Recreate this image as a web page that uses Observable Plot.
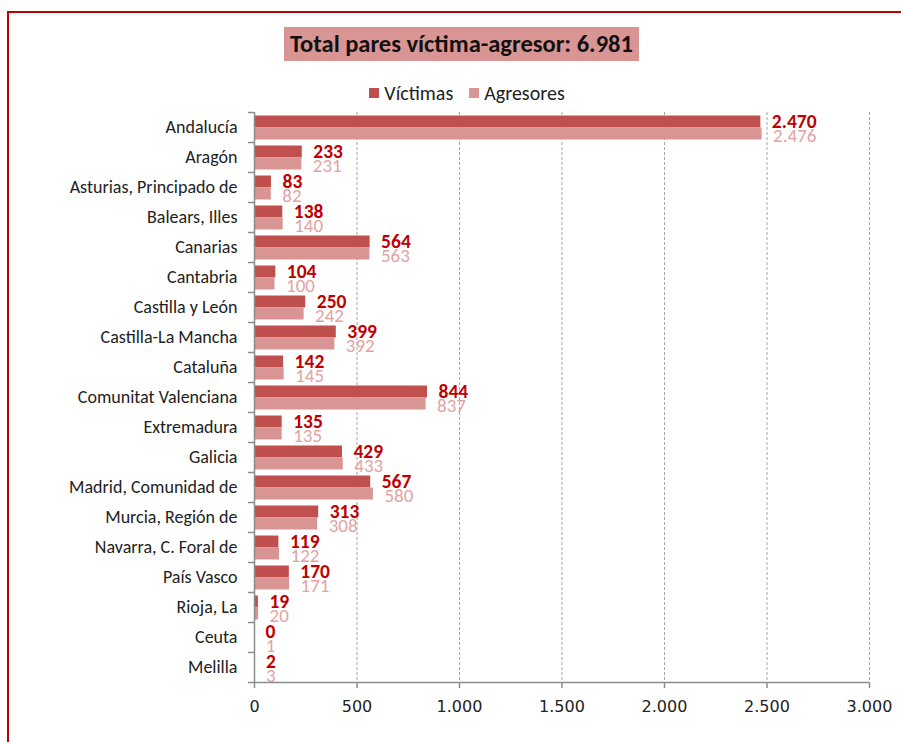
<!DOCTYPE html>
<html>
<head>
<meta charset="utf-8">
<script src="https://cdn.jsdelivr.net/npm/d3@7"></script>
<script src="https://cdn.jsdelivr.net/npm/@observablehq/plot@0.6"></script>
<style>
  html, body { margin: 0; padding: 0; background: #fff; }
  #wrap { position: relative; width: 901px; height: 742px; overflow: hidden; font-family: Calibri, Carlito, Lato, "Open Sans", sans-serif; }
  #frame { position: absolute; left: 7px; top: 11px; width: 1000px; height: 1000px; border-top: 2px solid #c00000; border-left: 2px solid #c00000; }
  #title { position: absolute; left: 284px; top: 27px; width: 355px; height: 34px; background: #d99594; color: #111; font-weight: bold; font-size: 24.5px; line-height: 34px; text-align: center; }
  #legend { position: absolute; left: 0; width: 934px; top: 79px; text-align: center; font-size: 20px; color: #222; }
  #legend span.item { display: inline-flex; align-items: center; margin: 0 8px; }
  #legend span.sw { display: inline-block; width: 10px; height: 10px; margin-right: 5px; }
  #chart { position: absolute; left: 0; top: 100px; }
</style>
</head>
<body>
<div id="wrap">
  <div id="frame"></div>
  <div id="title">Total pares víctima-agresor: 6.981</div>
  <div id="legend"></div>
  <div id="chart"></div>
</div>
<script>
const regions = ["Andalucía","Aragón","Asturias, Principado de","Balears, Illes","Canarias","Cantabria","Castilla y León","Castilla-La Mancha","Cataluña","Comunitat Valenciana","Extremadura","Galicia","Madrid, Comunidad de","Murcia, Región de","Navarra, C. Foral de","País Vasco","Rioja, La","Ceuta","Melilla"];
const victimas = [2470,233,83,138,564,104,250,399,142,844,135,429,567,313,119,170,19,0,2];
const agresores = [2476,231,82,140,563,100,242,392,145,837,135,433,580,308,122,171,20,1,3];
const seriesNames = ["Víctimas","Agresores"];
const xTicks = [0,500,1000,1500,2000,2500,3000];

const colV = "#c0504d", colA = "#d99594";
const labV = "#c00000", labA = "#e2a3a3";

const loc = d3.formatLocale({decimal: ",", thousands: ".", grouping: [3], currency: ["", "€"]});
const fmt = loc.format(",");

const dataV = regions.map((r, i) => ({region: r, value: victimas[i]}));
const dataA = regions.map((r, i) => ({region: r, value: agresores[i]}));

// legend
const lg = document.getElementById("legend");
[[seriesNames[0], colV], [seriesNames[1], colA]].forEach(([n, c]) => {
  const s = document.createElement("span"); s.className = "item";
  s.innerHTML = `<span class="sw" style="background:${c}"></span>${n}`;
  lg.appendChild(s);
});

const chart = Plot.plot({
  width: 901,
  height: 642,
  marginTop: 12,
  marginBottom: 60,
  marginLeft: 254,
  marginRight: 32,
  style: {fontFamily: "Calibri, Carlito, Lato, sans-serif", background: "transparent"},
  x: {domain: [0, 3000]},
  y: {domain: regions, padding: 0},
  marks: [
    Plot.ruleX(xTicks.slice(1), {stroke: "#a6a6a6", strokeDasharray: "3,2", strokeWidth: 1}),
    Plot.barX(dataV, {y: "region", x: "value", fill: colV, insetTop: 3.5, insetBottom: 14.5}),
    Plot.barX(dataA, {y: "region", x: "value", fill: colA, insetTop: 15.5, insetBottom: 2.5}),
    Plot.text(dataA, {y: "region", x: "value", text: d => fmt(d.value), dx: 11, dy: 8, textAnchor: "start", fill: labA, fontSize: 19}),
    Plot.text(dataV, {y: "region", x: "value", text: d => fmt(d.value), dx: 11, dy: -6, textAnchor: "start", fill: labV, fontWeight: "bold", fontSize: 19.5}),
    // left axis line and boundary ticks
    Plot.ruleX([0], {stroke: "#8c8c8c", strokeWidth: 1.5}),
    Plot.ruleY(regions, {y: d => d, x1: 0, x2: 0, dy: -15, insetLeft: -6, stroke: "#8c8c8c", strokeWidth: 1.5}),
    Plot.ruleY([regions[regions.length - 1]], {y: d => d, x1: 0, x2: 0, dy: 15, insetLeft: -6, stroke: "#8c8c8c", strokeWidth: 1.5}),
    // bottom axis line
    Plot.ruleY([regions[regions.length - 1]], {y: d => d, x1: 0, x2: 3000, dy: 15, stroke: "#8c8c8c", strokeWidth: 1.5}),
    Plot.axisX({ticks: xTicks, tickFormat: fmt, tickSize: 6, tickPadding: 12, stroke: "#8c8c8c", strokeWidth: 1.5, fontSize: 16, fill: "#222", fontFamily: "Tahoma, 'DejaVu Sans', sans-serif", label: null}),
    Plot.axisY({tickSize: 0, tickPadding: 17, fontSize: 18, fill: "#222", label: null})
  ]
});
document.getElementById("chart").appendChild(chart);
</script>
</body>
</html>
